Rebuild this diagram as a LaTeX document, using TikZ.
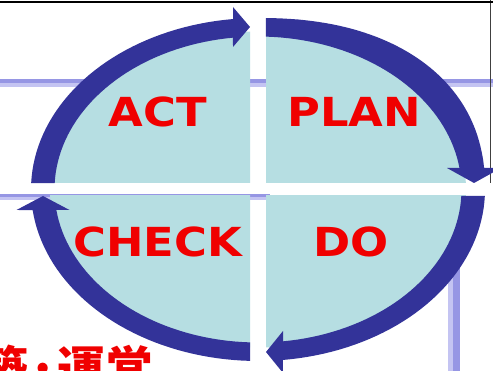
\documentclass[tikz,border=0pt]{standalone}
\usepackage{fontspec}
\usepackage{graphicx}
\newfontfamily\labfont{DejaVu Sans}
\newfontfamily\cjkfont{Noto Sans CJK JP}
\definecolor{bandblue}{RGB}{51,51,153}
\definecolor{quadfill}{RGB}{182,222,226}
\definecolor{labred}{RGB}{240,0,0}
\definecolor{lavdark}{RGB}{150,150,228}
\definecolor{lavlight}{RGB}{196,196,242}
\begin{document}
\begin{tikzpicture}[x=1pt,y=-1pt,
  band/.style={fill=bandblue},
  quad/.style={fill=quadfill},
  lab/.style={text=labred,inner sep=0pt,font=\labfont\bfseries\fontsize{40}{40}\selectfont},
  jptext/.style={text=labred,inner sep=0pt,anchor=base east,font=\cjkfont\bfseries\fontsize{48}{48}\selectfont},
  bgline/.style={line width=0.8pt,draw=black!75}
]
\useasboundingbox (0,0) rectangle (493,371);
\clip (0,0) rectangle (493,371);
\fill[white] (0,0) rectangle (493,371);
% background lavender rules
\fill[lavdark] (0,79) rectangle (493,83.5);
\fill[lavlight] (0,83.5) rectangle (493,87.5);
\fill[lavdark] (0,194) rectangle (270,197.5);
\fill[lavlight] (0,197.5) rectangle (270,200.5);
\fill[lavlight] (448,250) rectangle (453,371);
\fill[lavdark] (453,250) rectangle (460,371);
\coordinate (edgetop) at (490.6,0);
\coordinate (edgebot) at (490.6,183);
\draw[bgline] (edgetop) -- (edgebot);
% quadrants
\begin{scope}\clip (0,0) rectangle (250,183);
  \fill[quad] (258,189.5) ellipse [x radius=208, y radius=158];\end{scope}
\begin{scope}\clip (266,0) rectangle (493,183);
  \fill[quad] (258,189.5) ellipse [x radius=208, y radius=158];\end{scope}
\begin{scope}\clip (0,196) rectangle (250,371);
  \fill[quad] (258,189.5) ellipse [x radius=208, y radius=158];\end{scope}
\begin{scope}\clip (266,196) rectangle (493,371);
  \fill[quad] (258,189.5) ellipse [x radius=208, y radius=158];\end{scope}
% arrows (PLAN) -- outer edge slightly squarer
\fill[band] plot[domain=-88.68:-5.55,samples=50]
    ({258+227*pow(cos(\x),0.8889)},{189.5-171.5*pow(-sin(\x),0.8889)})
  -- (501,168) -- (474,183) -- (447,168)
  -- plot[domain=-8.08:-87.75,samples=40] ({258+203.5*cos(\x)},{189.5+153*sin(\x)}) -- cycle;
% DO
\fill[band] plot[domain=2.17:83.68,samples=40] ({258+227*cos(\x)},{189.5+171.5*sin(\x)})
  -- (283,373) -- (266,352) -- (283,331)
  -- plot[domain=82.94:2.43,samples=40] ({258+203.5*cos(\x)},{189.5+153*sin(\x)}) -- cycle;
% CHECK
\fill[band] plot[domain=92.02:173.13,samples=40] ({258+227*cos(\x)},{189.5+171.5*sin(\x)})
  -- (16.5,210) -- (43,196) -- (69.5,210)
  -- plot[domain=172.30:92.25,samples=40] ({258+203.5*cos(\x)},{189.5+153*sin(\x)}) -- cycle;
% ACT
\fill[band] plot[domain=182.17:263.68,samples=40] ({258+227*cos(\x)},{189.5+171.5*sin(\x)})
  -- (233,7) -- (250,27) -- (233,47)
  -- plot[domain=262.94:182.43,samples=40] ({258+203.5*cos(\x)},{189.5+153*sin(\x)}) -- cycle;
% labels
\node[lab] (act) at (157.5,111.5) {\scalebox{1.12}[1]{ACT}};
\node[lab] (plan) at (354,111.5) {\scalebox{1.12}[1]{PLAN}};
\node[lab] (check) at (157.5,241.5) {\scalebox{1.12}[1]{CHECK}};
\node[lab] (do) at (351,241.5) {\scalebox{1.12}[1]{DO}};
\node[jptext] (jp) at (154,387) {築·運営};
% top rule
\fill[black] (0,1) rectangle (493,3.2);
\end{tikzpicture}
\end{document}
